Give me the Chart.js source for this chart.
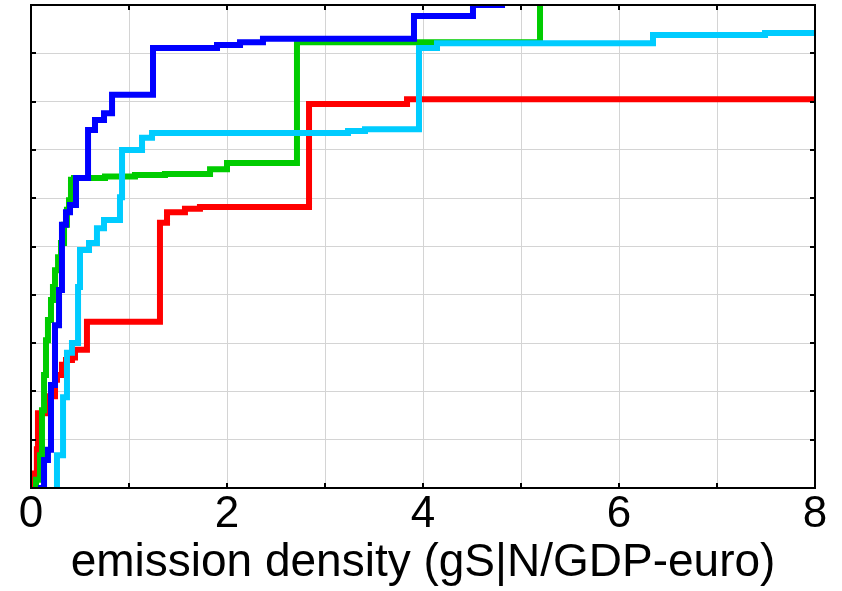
<!DOCTYPE html>
<html>
<head>
<meta charset="utf-8">
<script src="https://cdn.jsdelivr.net/npm/chart.js@4/dist/chart.umd.min.js"></script>
<style>
  html, body { margin: 0; padding: 0; background: #ffffff; }
  #wrap { width: 842px; height: 591px; }
</style>
</head>
<body>
<div id="wrap"><canvas id="c" width="842" height="591"></canvas></div>
<script>
// ---- data ----
const xTickLabels = ['0', '', '2', '', '4', '', '6', '', '8'];
const xAxisTitle = 'emission density (gS|N/GDP-euro)';

const redX   = [0.02, 0.04, 0.06, 0.071, 0.163, 0.245, 0.265, 0.316, 0.357, 0.418, 0.449, 0.571, 1.316, 1.388, 1.571, 1.724, 2.837, 3.837, 8.0];
const redY   = [0, 0.03, 0.08, 0.155, 0.19, 0.224, 0.234, 0.255, 0.265, 0.27, 0.286, 0.344, 0.549, 0.571, 0.578, 0.582, 0.795, 0.805, 0.805];

const greenX = [0.031, 0.051, 0.092, 0.112, 0.133, 0.153, 0.173, 0.204, 0.224, 0.245, 0.276, 0.306, 0.337, 0.367, 0.388, 0.408, 0.439, 0.755, 1.061, 1.367, 1.827, 2.0, 2.714, 5.194];
const greenY = [0, 0.017, 0.068, 0.161, 0.234, 0.306, 0.348, 0.389, 0.416, 0.451, 0.478, 0.507, 0.545, 0.576, 0.596, 0.638, 0.642, 0.645, 0.648, 0.650, 0.660, 0.673, 0.923, 1.0];

const blueX  = [0.071, 0.133, 0.173, 0.204, 0.245, 0.286, 0.316, 0.357, 0.398, 0.459, 0.582, 0.653, 0.745, 0.827, 1.245, 1.898, 2.133, 2.367, 3.908, 4.51, 4.837];
const blueY  = [0, 0.058, 0.079, 0.213, 0.337, 0.41, 0.545, 0.571, 0.586, 0.642, 0.741, 0.762, 0.776, 0.814, 0.911, 0.917, 0.923, 0.930, 0.977, 1.0, 1.0];

const cyanX  = [0.255, 0.265, 0.327, 0.367, 0.418, 0.480, 0.500, 0.592, 0.673, 0.745, 0.908, 0.929, 1.133, 1.235, 3.235, 3.408, 3.959, 4.143, 6.347, 7.490, 8.0];
const cyanY  = [0, 0.068, 0.188, 0.28, 0.30, 0.416, 0.493, 0.507, 0.538, 0.555, 0.602, 0.70, 0.725, 0.735, 0.739, 0.743, 0.911, 0.921, 0.938, 0.942, 0.942];

function pts(xs, ys) { return xs.map((x, i) => ({ x: x, y: ys[i] })); }

// frame + inward tick marks on all four sides, positioned by the scales
const framePlugin = {
  id: 'frame',
  afterDraw(chart) {
    const { ctx, chartArea: a, scales } = chart;
    const xs = scales.x, ys = scales.y;
    const L = 5;
    ctx.save();
    ctx.strokeStyle = '#000000';
    ctx.lineWidth = 2;
    ctx.beginPath();
    xs.ticks.forEach(t => {
      const p = Math.round(xs.getPixelForValue(t.value));
      ctx.moveTo(p, a.bottom); ctx.lineTo(p, a.bottom - L);
      ctx.moveTo(p, a.top); ctx.lineTo(p, a.top + L);
    });
    ys.ticks.forEach(t => {
      const p = Math.round(ys.getPixelForValue(t.value));
      ctx.moveTo(a.left, p); ctx.lineTo(a.left + L, p);
      ctx.moveTo(a.right, p); ctx.lineTo(a.right - L, p);
    });
    ctx.stroke();
    ctx.strokeRect(a.left, a.top, a.right - a.left, a.bottom - a.top);
    ctx.restore();
  }
};

const common = { stepped: 'before', borderWidth: 6, pointRadius: 0, fill: false, clip: 0, tension: 0 };

new Chart(document.getElementById('c'), {
  type: 'line',
  data: {
    datasets: [
      Object.assign({ label: 'blue',  data: pts(blueX, blueY),   borderColor: '#0000ff' }, common),
      Object.assign({ label: 'cyan',  data: pts(cyanX, cyanY),   borderColor: '#00ccff' }, common),
      Object.assign({ label: 'green', data: pts(greenX, greenY), borderColor: '#00cc00' }, common),
      Object.assign({ label: 'red',   data: pts(redX, redY),     borderColor: '#ff0000' }, common)
    ]
  },
  options: {
    responsive: false,
    animation: false,
    events: [],
    layout: { padding: { left: 31, right: 27, top: 5, bottom: 0 }, autoPadding: false },
    plugins: { legend: { display: false }, tooltip: { enabled: false } },
    scales: {
      x: {
        type: 'linear', min: 0, max: 8,
        afterFit(s) { s.height = 103; },
        ticks: {
          stepSize: 1,
          padding: 0,
          color: '#000000',
          font: { family: '"Liberation Sans", Arial, sans-serif', size: 44 },
          maxRotation: 0,
          autoSkip: false,
          callback: (v, i) => xTickLabels[i] !== undefined ? xTickLabels[i] : ''
        },
        grid: { color: '#d4d4d4', lineWidth: 1, drawTicks: false },
        border: { display: false },
        title: {
          display: true,
          text: xAxisTitle,
          color: '#000000',
          padding: { top: 0, bottom: 0 },
          font: { family: '"Liberation Sans", Arial, sans-serif', size: 46 }
        }
      },
      y: {
        type: 'linear', min: 0, max: 1,
        afterFit(s) { s.width = 0; },
        ticks: { stepSize: 0.1, display: false },
        grid: { color: '#d4d4d4', lineWidth: 1, drawTicks: false },
        border: { display: false }
      }
    }
  },
  plugins: [framePlugin]
});
</script>
</body>
</html>
